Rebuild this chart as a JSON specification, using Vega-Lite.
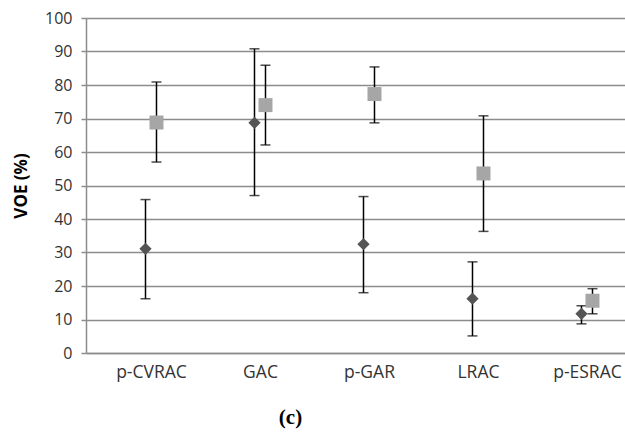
{
  "$schema": "https://vega.github.io/schema/vega-lite/v6.json",
  "width": 539,
  "height": 335,
  "autosize": "none",
  "padding": {"left": 86, "top": 18, "right": 0, "bottom": 79},
  "background": "white",
  "config": {
    "view": {"stroke": null},
    "font": "Open Sans",
    "axis": {"labelFont": "Open Sans", "titleFont": "Open Sans"}
  },
  "title": {
    "text": "(c)",
    "orient": "bottom",
    "anchor": "middle",
    "font": "Liberation Serif",
    "fontSize": 21,
    "fontWeight": "bold",
    "color": "#000000",
    "dx": -65,
    "offset": 26
  },
  "data": {
    "values": [
      {"method": "p-CVRAC", "series": "A", "mean": 31.1, "lo": 16.2, "hi": 45.8},
      {"method": "GAC", "series": "A", "mean": 68.7, "lo": 47.0, "hi": 90.8},
      {"method": "p-GAR", "series": "A", "mean": 32.5, "lo": 18.0, "hi": 46.7},
      {"method": "LRAC", "series": "A", "mean": 16.2, "lo": 5.1, "hi": 27.2},
      {"method": "p-ESRAC", "series": "A", "mean": 11.7, "lo": 8.7, "hi": 14.1},
      {"method": "p-CVRAC", "series": "B", "mean": 68.8, "lo": 57.0, "hi": 80.9},
      {"method": "GAC", "series": "B", "mean": 74.0, "lo": 62.1, "hi": 85.9},
      {"method": "p-GAR", "series": "B", "mean": 77.3, "lo": 68.7, "hi": 85.4},
      {"method": "LRAC", "series": "B", "mean": 53.6, "lo": 36.3, "hi": 70.8},
      {"method": "p-ESRAC", "series": "B", "mean": 15.6, "lo": 11.7, "hi": 19.2}
    ]
  },
  "encoding": {
    "x": {
      "field": "method",
      "type": "nominal",
      "sort": ["p-CVRAC", "GAC", "p-GAR", "LRAC", "p-ESRAC"],
      "scale": {"type": "point", "padding": 0.4725, "align": 0.631},
      "axis": {
        "title": null,
        "labelAngle": 0,
        "labelFontSize": 17.5,
        "labelColor": "#333333",
        "labelPadding": 10,
        "ticks": false,
        "domainColor": "#8c8c8c",
        "domainWidth": 1.5,
        "grid": false
      }
    },
    "y": {
      "field": "mean",
      "type": "quantitative",
      "scale": {"domain": [0, 100]},
      "axis": {
        "title": "VOE (%)",
        "titleFontSize": 17,
        "titleFontWeight": "bold",
        "titleColor": "#000000",
        "titlePadding": 14,
        "values": [0, 10, 20, 30, 40, 50, 60, 70, 80, 90, 100],
        "labelFontSize": 16,
        "labelColor": "#333333",
        "labelPadding": 9,
        "labelOverlap": false,
        "tickSize": 5,
        "tickColor": "#8c8c8c",
        "tickWidth": 1.5,
        "domainColor": "#8c8c8c",
        "domainWidth": 1.5,
        "grid": true,
        "gridColor": "#8c8c8c",
        "gridWidth": 1.5
      }
    },
    "xOffset": {"field": "series", "type": "nominal", "scale": {"domain": ["A", "B"], "range": [-11, 11]}}
  },
  "layer": [
    {
      "mark": {"type": "rule", "color": "#000000", "strokeWidth": 1.5},
      "encoding": {
        "y": {"field": "lo", "type": "quantitative"},
        "y2": {"field": "hi"}
      }
    },
    {
      "mark": {"type": "tick", "color": "#000000", "thickness": 1.5, "size": 10, "orient": "horizontal"},
      "encoding": {
        "y": {"field": "lo", "type": "quantitative"}
      }
    },
    {
      "mark": {"type": "tick", "color": "#000000", "thickness": 1.5, "size": 10, "orient": "horizontal"},
      "encoding": {
        "y": {"field": "hi", "type": "quantitative"}
      }
    },
    {
      "mark": {"type": "point", "filled": true, "opacity": 1},
      "encoding": {
        "shape": {"field": "series", "type": "nominal", "scale": {"domain": ["A", "B"], "range": ["diamond", "square"]}, "legend": null},
        "color": {"field": "series", "type": "nominal", "scale": {"domain": ["A", "B"], "range": ["#555555", "#a6a6a6"]}, "legend": null},
        "size": {"field": "series", "type": "nominal", "scale": {"domain": ["A", "B"], "range": [150, 196]}, "legend": null}
      }
    }
  ]
}
